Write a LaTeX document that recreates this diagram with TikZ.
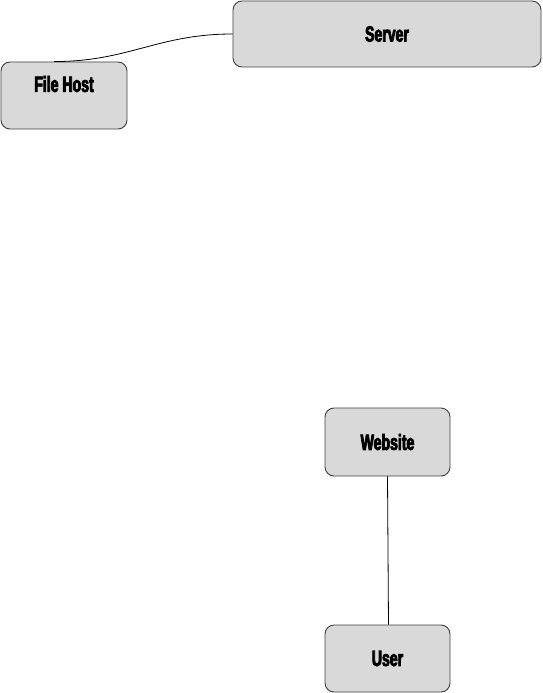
\documentclass[tikz,border=0pt]{standalone}
\usepackage{fontspec}
\setmainfont{Liberation Sans}[FakeStretch=0.64,BoldFeatures={FakeBold=3.5}]
\definecolor{boxgray}{HTML}{D9D9D9}
\definecolor{edgegray}{HTML}{404040}
\tikzset{
  box/.style={draw=edgegray, fill=boxgray, rounded corners=9pt, line width=0.9pt, inner sep=0pt},
  boxtext/.style={font=\bfseries\fontsize{22}{24}\selectfont, inner sep=0pt},
  link/.style={draw=black, line width=0.8pt}
}
\begin{document}
\begin{tikzpicture}[x=1pt,y=-1pt]
\useasboundingbox (0,0) rectangle (542,693);
% boxes
\node[box, minimum width=308pt, minimum height=66pt] (server) at (387,34) {};
\node[boxtext] (servertext) at (server.center) {Server};
\node[box, minimum width=126pt, minimum height=67pt] (filehost) at (64,95.5) {};
\node[boxtext] (filehosttext) at ([yshift=11.5pt]filehost.center) {File Host};
\node[box, minimum width=125pt, minimum height=68pt] (website) at (387.5,442) {};
\node[boxtext] (websitetext) at (website.center) {Website};
\node[box, minimum width=125pt, minimum height=67pt] (user) at (387.5,658.5) {};
\node[boxtext] (usertext) at (user.center) {User};
% links
\draw[link] (server.west) .. controls +(-75,0) and +(75,0) .. ([xshift=-10pt]filehost.north);
\draw[link] (website.south) -- ([xshift=1pt]user.north);
\end{tikzpicture}
\end{document}
